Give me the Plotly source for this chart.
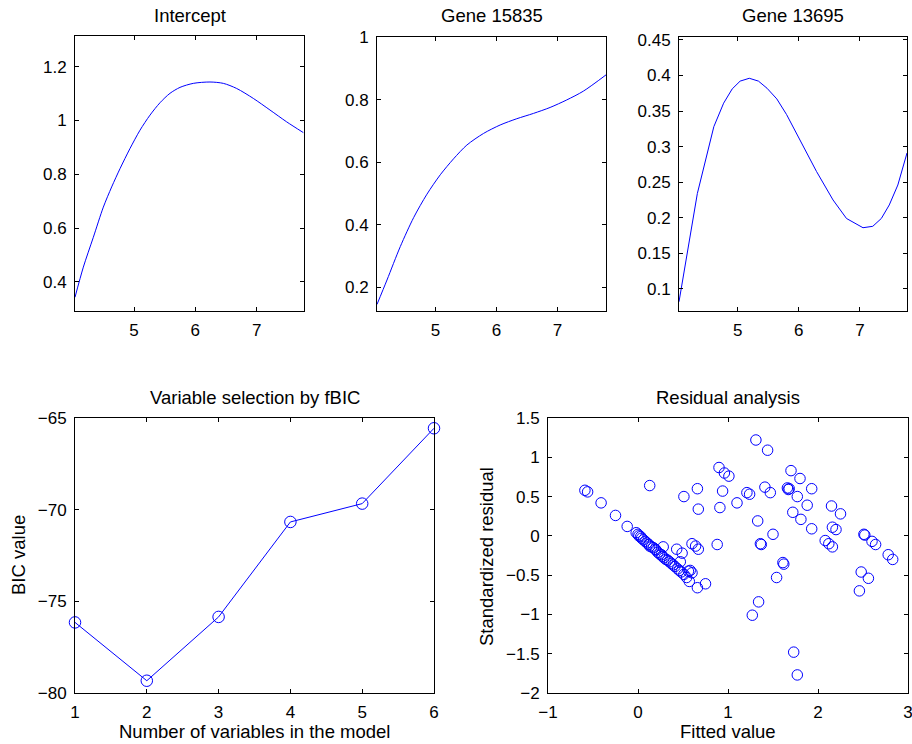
import plotly.graph_objects as go

# ---------------- data ----------------
intercept_x = [4.038, 4.174, 4.337, 4.500, 4.636, 4.772, 4.935, 5.098, 5.261, 5.424, 5.587, 5.750, 5.967, 6.239, 6.457, 6.674, 6.946, 7.217, 7.489, 7.761]
intercept_y = [0.343, 0.455, 0.566, 0.678, 0.753, 0.821, 0.896, 0.964, 1.020, 1.066, 1.101, 1.123, 1.138, 1.143, 1.138, 1.119, 1.082, 1.039, 0.995, 0.955]

gene15835_x = [4.038, 4.202, 4.421, 4.639, 4.858, 5.077, 5.295, 5.514, 5.787, 6.060, 6.333, 6.607, 6.880, 7.153, 7.426, 7.798]
gene15835_y = [0.146, 0.224, 0.331, 0.423, 0.498, 0.560, 0.611, 0.655, 0.692, 0.719, 0.739, 0.756, 0.775, 0.799, 0.827, 0.879]

gene13695_x = [4.04, 4.34, 4.61, 4.77, 4.91, 5.04, 5.19, 5.34, 5.48, 5.64, 5.80, 6.02, 6.29, 6.56, 6.78, 7.05, 7.21, 7.35, 7.48, 7.62, 7.77]
gene13695_y = [0.082, 0.234, 0.328, 0.361, 0.381, 0.392, 0.396, 0.392, 0.382, 0.367, 0.345, 0.309, 0.265, 0.225, 0.199, 0.186, 0.188, 0.199, 0.218, 0.246, 0.291]

n_vars = [1, 2, 3, 4, 5, 6]
bic_values = [-76.15, -79.33, -75.85, -70.67, -69.67, -65.56]

fitted = [
    -0.59, -0.56, -0.41, -0.25, -0.12, -0.02, 0.00, 0.01, 0.03, 0.04, 0.06, 0.08, 0.10, 0.12, 0.13,
    0.15, 0.17, 0.19, 0.20, 0.22, 0.24, 0.26, 0.27, 0.29, 0.31, 0.33, 0.35, 0.37, 0.39, 0.41,
    0.44, 0.46, 0.48, 0.51, 0.54, 0.57, 0.66, 0.75,
    0.28, 0.43, 0.49, 0.47, 0.58, 0.60, 0.56, 0.60, 0.64, 0.67, 0.13,
    0.51, 0.66, 0.67, 0.88, 0.91, 0.90, 0.96, 1.01, 0.94, 1.10, 1.21, 1.24, 1.31, 1.44, 1.41,
    1.47, 1.33, 1.36, 1.37, 1.50, 1.61, 1.62, 1.54, 1.34, 1.27, 1.73, 1.77, 1.70, 1.80, 1.66,
    1.68, 1.67, 1.77, 1.93, 1.72, 1.81, 1.88, 1.93, 2.15, 2.25, 2.16, 2.20, 2.08, 2.12, 2.16,
    2.51, 2.52, 2.60, 2.64, 2.78, 2.83, 2.48, 2.56, 2.46,
]
std_resid = [
    0.58, 0.56, 0.42, 0.26, 0.12, 0.04, 0.02, 0.00, -0.01, -0.03, -0.05, -0.07, -0.09, -0.11, -0.13,
    -0.14, -0.15, -0.17, -0.18, -0.21, -0.23, -0.24, -0.26, -0.28, -0.30, -0.31, -0.33, -0.35, -0.37, -0.39,
    -0.42, -0.44, -0.46, -0.49, -0.53, -0.58, -0.66, -0.61,
    -0.14, -0.17, -0.22, -0.33, -0.44, -0.47, -0.45, -0.10, -0.13, -0.17, 0.64,
    0.50, 0.60, 0.34, -0.11, 0.36, 0.87, 0.80, 0.76, 0.57, 0.42, 0.55, 0.53, 1.22, 1.09, 0.62,
    0.55, 0.19, -0.10, -0.11, 0.02, -0.34, -0.36, -0.53, -0.84, -1.01, -1.48, -1.77, 0.83, 0.73, 0.61,
    0.60, 0.59, 0.50, 0.60, 0.30, 0.21, 0.39, 0.09, 0.38, 0.28, 0.11, 0.08, -0.06, -0.10, -0.14,
    0.02, 0.01, -0.07, -0.11, -0.24, -0.30, -0.46, -0.54, -0.70,
]

top_ticks_x = [5, 6, 7]
intercept_ticks = [0.4, 0.6, 0.8, 1, 1.2]
gene15835_ticks = [0.2, 0.4, 0.6, 0.8, 1]
gene13695_ticks = [0.1, 0.15, 0.2, 0.25, 0.3, 0.35, 0.4, 0.45]
bic_ticks = [-80, -75, -70, -65]
resid_x_ticks = [-1, 0, 1, 2, 3]
resid_y_ticks = [-2, -1.5, -1, -0.5, 0, 0.5, 1, 1.5]

# ---------------- figure ----------------
W, H = 912, 744
BLUE = "#0000ff"
FONT = "Liberation Sans, Arial, Helvetica, sans-serif"
FS = 17
FS_TXT = 18.5


def dx(a, b):
    return [a / W, b / W]


def dy(top, bottom):
    return [1 - bottom / H, 1 - top / H]


fig = go.Figure()
fig.add_trace(go.Scatter(x=intercept_x, y=intercept_y, mode="lines", line=dict(color=BLUE, width=1, shape="spline", smoothing=0.8),
                         xaxis="x", yaxis="y"))
fig.add_trace(go.Scatter(x=gene15835_x, y=gene15835_y, mode="lines", line=dict(color=BLUE, width=1, shape="spline", smoothing=0.8),
                         xaxis="x2", yaxis="y2"))
fig.add_trace(go.Scatter(x=gene13695_x, y=gene13695_y, mode="lines", line=dict(color=BLUE, width=1),
                         xaxis="x3", yaxis="y3"))
fig.add_trace(go.Scatter(x=n_vars, y=bic_values, mode="lines+markers", line=dict(color=BLUE, width=1),
                         marker=dict(symbol="circle-open", size=11.5, color=BLUE, line=dict(width=1)),
                         cliponaxis=False, xaxis="x4", yaxis="y4"))
fig.add_trace(go.Scatter(x=fitted, y=std_resid, mode="markers",
                         marker=dict(symbol="circle-open", size=10.5, color=BLUE, line=dict(width=1)),
                         cliponaxis=False, xaxis="x5", yaxis="y5"))

common = dict(showline=True, linecolor="black", linewidth=1, mirror="ticks", ticks="inside", ticklen=4,
              tickcolor="black", showgrid=False, zeroline=False, ticklabelstandoff=4,
              ticklabeloverflow="allow", automargin=False,
              tickfont=dict(family=FONT, size=FS, color="black"))

layout = dict(
    width=W, height=H, showlegend=False, plot_bgcolor="white", paper_bgcolor="white", hovermode=False,
    margin=dict(l=0, r=0, t=0, b=0, pad=0, autoexpand=False), font=dict(family=FONT, size=FS, color="black"),
    xaxis=dict(domain=dx(75, 304), range=[4.038, 7.772], tickvals=top_ticks_x, anchor="y", **common),
    yaxis=dict(domain=dy(36, 311), range=[0.292, 1.314], tickvals=intercept_ticks, anchor="x", **common),
    xaxis2=dict(domain=dx(377, 606), range=[4.038, 7.798], tickvals=top_ticks_x, anchor="y2", **common),
    yaxis2=dict(domain=dy(37, 311), range=[0.125, 1.0], tickvals=gene15835_ticks, anchor="x2", **common),
    xaxis3=dict(domain=dx(679, 907), range=[4.04, 7.77], tickvals=top_ticks_x, anchor="y3", **common),
    yaxis3=dict(domain=dy(37, 311), range=[0.069, 0.454], tickvals=gene13695_ticks, anchor="x3", **common),
    xaxis4=dict(domain=dx(75, 434), range=[1, 6], tickvals=n_vars, anchor="y4", **common),
    yaxis4=dict(domain=dy(418, 693), range=[-80, -65], tickvals=bic_ticks, anchor="x4", **common),
    xaxis5=dict(domain=dx(548, 908), range=[-1, 3], tickvals=resid_x_ticks, anchor="y5", **common),
    yaxis5=dict(domain=dy(418, 693), range=[-2, 1.5], tickvals=resid_y_ticks, anchor="x5", **common),
)
fig.update_layout(**layout)


def label(text, px, py, angle=0):
    fig.add_annotation(text=text, x=px / W, y=1 - py / H, xref="paper", yref="paper", showarrow=False,
                       xanchor="center", yanchor="middle", textangle=angle,
                       font=dict(family=FONT, size=FS_TXT, color="black"))


label("Intercept", 189.5, 16)
label("Gene 15835", 491.5, 16)
label("Gene 13695", 793, 16)
label("Variable selection by fBIC", 254.5, 397)
label("Residual analysis", 728, 397)
label("Number of variables in the model", 254.5, 731)
label("Fitted value", 728, 731)
label("BIC value", 18, 555, -90)
label("Standardized residual", 486, 557, -90)

fig.write_html(
    "out.html",
    config={"displayModeBar": False, "staticPlot": True},
    post_script="document.body.style.margin='0';document.body.style.overflow='hidden';",
)
